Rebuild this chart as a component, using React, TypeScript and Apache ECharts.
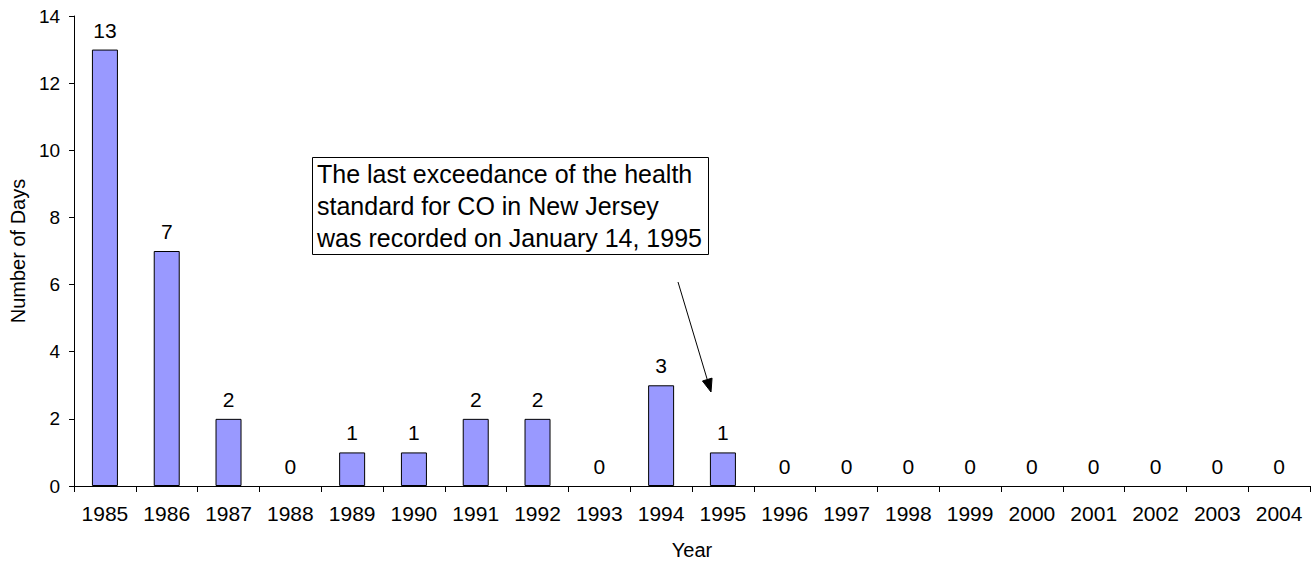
import React, { useEffect, useRef } from "react";
import * as echarts from "echarts";

const years = ["1985","1986","1987","1988","1989","1990","1991","1992","1993","1994","1995","1996","1997","1998","1999","2000","2001","2002","2003","2004"];
const days = [13, 7, 2, 0, 1, 1, 2, 2, 0, 3, 1, 0, 0, 0, 0, 0, 0, 0, 0, 0];
const annotationLines = [
  "The last exceedance of the health",
  "standard for CO in New Jersey",
  "was recorded on January 14, 1995",
];

const FONT = "'Liberation Sans', Arial, Helvetica, sans-serif";

export default function App() {
  const ref = useRef<HTMLDivElement>(null);
  useEffect(() => {
    if (!ref.current) return;
    const chart = echarts.init(ref.current, null, { renderer: "svg" });
    const tipX = 711, tipY = 392, startX = 678, startY = 282;
    const dx = tipX - startX, dy = tipY - startY;
    const len = Math.sqrt(dx * dx + dy * dy);
    const ux = dx / len, uy = dy / len;
    const hl = 13, hw = 5;
    const bx = tipX - ux * hl, by = tipY - uy * hl;
    chart.setOption({
      animation: false,
      textStyle: { fontFamily: FONT, color: "#000" },
      grid: { left: 71, right: 4, top: 16, bottom: 77, containLabel: false },
      xAxis: {
        type: "category",
        data: years,
        boundaryGap: true,
        name: "Year",
        nameLocation: "middle",
        nameGap: 54,
        nameTextStyle: { fontFamily: FONT, fontSize: 20, color: "#000" },
        axisLine: { lineStyle: { color: "#000", width: 1 } },
        axisTick: { show: true, length: 6, alignWithLabel: false, lineStyle: { color: "#000" } },
        axisLabel: { fontFamily: FONT, fontSize: 21, color: "#000", margin: 17, interval: 0 },
        splitLine: { show: false },
      },
      yAxis: {
        type: "value",
        min: 0,
        max: 14,
        interval: 2,
        name: "Number of Days",
        nameLocation: "middle",
        nameGap: 43,
        nameRotate: 90,
        nameTextStyle: { fontFamily: FONT, fontSize: 20, color: "#000" },
        axisLine: { show: true, lineStyle: { color: "#000", width: 1 } },
        axisTick: { show: true, length: 5, lineStyle: { color: "#000" } },
        axisLabel: { fontFamily: FONT, fontSize: 19, color: "#000", margin: 14 },
        splitLine: { show: false },
      },
      series: [
        {
          type: "bar",
          data: days.map((v) => ({
            value: v,
            itemStyle: v === 0 ? { borderWidth: 0, opacity: 0 } : undefined,
          })),
          barWidth: 26,
          itemStyle: { color: "#9999FF", borderColor: "#000", borderWidth: 1 },
          label: {
            show: true,
            position: "top",
            distance: 9,
            fontFamily: FONT,
            fontSize: 21,
            color: "#000",
            opacity: 1,
          },
        },
      ],
      graphic: [
        {
          type: "rect",
          shape: { x: 312.5, y: 157.5, width: 396, height: 97 },
          style: { fill: "#fff", stroke: "#000", lineWidth: 1 },
          z: 10,
        },
        ...annotationLines.map((t, i) => ({
          type: "text",
          x: 317,
          y: 173.5 + i * 32,
          style: {
            text: t,
            fontFamily: FONT,
            fontSize: 25,
            fill: "#000",
            textVerticalAlign: "middle",
            verticalAlign: "middle",
            align: "left",
          },
          z: 11,
        })),
        {
          type: "line",
          shape: { x1: startX, y1: startY, x2: bx, y2: by },
          style: { stroke: "#000", lineWidth: 1 },
          z: 10,
        },
        {
          type: "polygon",
          shape: {
            points: [
              [tipX, tipY],
              [bx - uy * hw, by + ux * hw],
              [bx + uy * hw, by - ux * hw],
            ],
          },
          style: { fill: "#000", stroke: "#000", lineWidth: 1 },
          z: 10,
        },
      ],
    });
    return () => chart.dispose();
  }, []);
  return <div ref={ref} style={{ width: 1314, height: 565, position: "absolute", left: 0, top: 0 }} />;
}
